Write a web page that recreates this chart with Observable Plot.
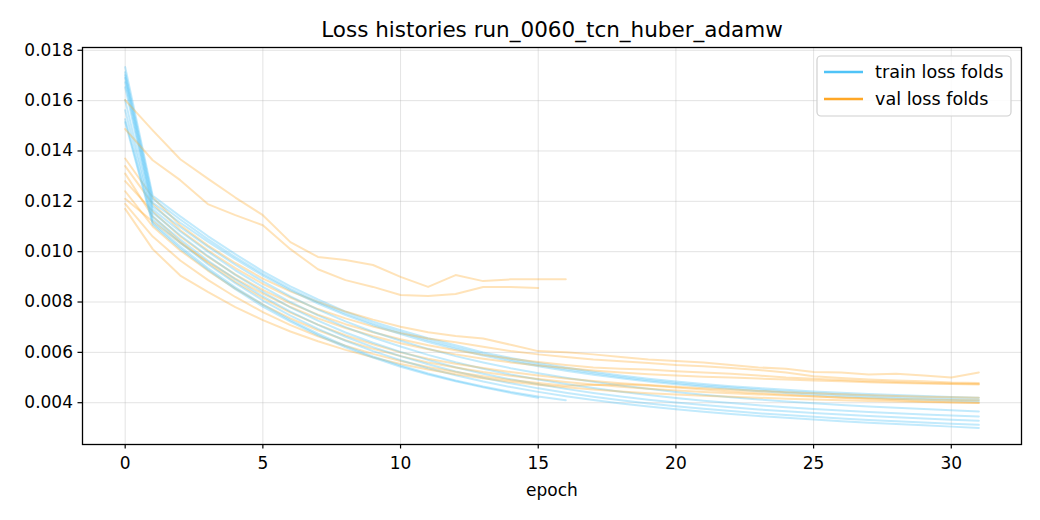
<!DOCTYPE html>
<html>
<head>
<meta charset="utf-8">
<script src="https://cdn.jsdelivr.net/npm/d3@7"></script>
<script src="https://cdn.jsdelivr.net/npm/@observablehq/plot@0.6"></script>
<style>
  html, body { margin: 0; padding: 0; background: #fff; }
  #chart { width: 1040px; height: 520px; }
</style>
</head>
<body>
<div id="chart"></div>
<script>
const chartTitle = "Loss histories run_0060_tcn_huber_adamw";
const xLabel = "epoch";
const legendLabels = ["train loss folds", "val loss folds"];
const xTicks = [0, 5, 10, 15, 20, 25, 30];
const yTicks = [0.004, 0.006, 0.008, 0.010, 0.012, 0.014, 0.016, 0.018];

// train loss per fold (index = epoch)
const train_f0 = [0.01733,0.01222,0.01140,0.01062,0.00990,0.00922,0.00862,0.00810,0.00762,0.00722,0.00688,0.00656,0.00628,0.00600,0.00578,0.00558,0.00540,0.00523,0.00508,0.00495,0.00484,0.00474,0.00465,0.00458,0.00451,0.00445,0.00440,0.00435,0.00431,0.00427,0.00423,0.00420];
const train_f1 = [0.01713,0.01210,0.01128,0.01050,0.00978,0.00912,0.00852,0.00800,0.00754,0.00714,0.00680,0.00648,0.00620,0.00594,0.00571,0.00551,0.00533,0.00517,0.00502,0.00489,0.00478,0.00468,0.00460,0.00452,0.00445,0.00439,0.00433,0.00428,0.00423,0.00419,0.00415,0.00412];
const train_f2 = [0.01701,0.01195,0.01115,0.01040,0.00970,0.00905,0.00846,0.00794,0.00748,0.00708,0.00673,0.00641,0.00613,0.00587,0.00565,0.00545,0.00527,0.00511,0.00497,0.00484,0.00473,0.00463,0.00454,0.00446,0.00439,0.00432,0.00426,0.00421,0.00416,0.00412,0.00408,0.00405];
const train_f3 = [0.01690,0.01180,0.01098,0.01020,0.00948,0.00882,0.00822,0.00770,0.00723,0.00682,0.00646,0.00614,0.00585,0.00560,0.00537,0.00517,0.00499,0.00483,0.00468,0.00455,0.00443,0.00432,0.00422,0.00413,0.00405,0.00398,0.00391,0.00385,0.00380,0.00375,0.00370,0.00365];
const train_f4 = [0.01673,0.01168,0.01080,0.01000,0.00926,0.00860,0.00800,0.00747,0.00700,0.00659,0.00623,0.00590,0.00561,0.00535,0.00512,0.00492,0.00474,0.00458,0.00444,0.00431,0.00419,0.00408,0.00399,0.00390,0.00382,0.00375,0.00369,0.00363,0.00358,0.00353,0.00349,0.00345];
const train_f5 = [0.01653,0.01155,0.01065,0.00983,0.00908,0.00840,0.00779,0.00726,0.00679,0.00638,0.00602,0.00570,0.00541,0.00515,0.00493,0.00473,0.00455,0.00439,0.00425,0.00412,0.00401,0.00391,0.00382,0.00373,0.00366,0.00359,0.00353,0.00347,0.00342,0.00337,0.00332,0.00328];
const train_f6 = [0.01602,0.01140,0.01048,0.00965,0.00890,0.00822,0.00762,0.00709,0.00662,0.00621,0.00585,0.00553,0.00524,0.00499,0.00477,0.00457,0.00440,0.00424,0.00410,0.00397,0.00386,0.00376,0.00367,0.00358,0.00351,0.00344,0.00337,0.00331,0.00326,0.00321,0.00316,0.00312];
const train_f7 = [0.01562,0.01128,0.01035,0.00950,0.00875,0.00806,0.00746,0.00693,0.00646,0.00605,0.00569,0.00537,0.00509,0.00484,0.00462,0.00443,0.00426,0.00411,0.00397,0.00385,0.00374,0.00364,0.00355,0.00347,0.00340,0.00333,0.00326,0.00320,0.00315,0.00310,0.00305,0.00300];
const train_f8 = [0.01526,0.01115,0.01020,0.00935,0.00858,0.00790,0.00728,0.00674,0.00626,0.00584,0.00548,0.00516,0.00488,0.00464,0.00443,0.00425,0.00410];
const train_f9 = [0.01514,0.01108,0.01012,0.00928,0.00851,0.00782,0.00722,0.00668,0.00620,0.00579,0.00543,0.00512,0.00485,0.00461,0.00439,0.00420];

// validation loss per fold (index = epoch)
const val_f0 = [0.01370,0.01215,0.01105,0.01025,0.00955,0.00893,0.00842,0.00800,0.00762,0.00730,0.00702,0.00680,0.00665,0.00655,0.00630,0.00605,0.00600,0.00592,0.00582,0.00572,0.00566,0.00560,0.00550,0.00540,0.00535,0.00522,0.00520,0.00512,0.00515,0.00508,0.00500,0.00520];
const val_f1 = [0.01340,0.01190,0.01085,0.01005,0.00935,0.00872,0.00818,0.00772,0.00735,0.00703,0.00676,0.00655,0.00640,0.00622,0.00605,0.00592,0.00582,0.00572,0.00565,0.00558,0.00550,0.00545,0.00538,0.00530,0.00520,0.00505,0.00498,0.00492,0.00488,0.00485,0.00480,0.00478];
const val_f2 = [0.01280,0.01160,0.01060,0.00980,0.00910,0.00848,0.00795,0.00750,0.00712,0.00680,0.00652,0.00628,0.00608,0.00590,0.00575,0.00562,0.00550,0.00540,0.00535,0.00532,0.00525,0.00520,0.00515,0.00508,0.00500,0.00495,0.00490,0.00485,0.00482,0.00478,0.00476,0.00474];
const val_f3 = [0.01210,0.01120,0.01035,0.00960,0.00893,0.00833,0.00780,0.00735,0.00697,0.00665,0.00636,0.00612,0.00592,0.00575,0.00560,0.00548,0.00538,0.00528,0.00520,0.00513,0.00508,0.00503,0.00500,0.00496,0.00492,0.00488,0.00485,0.00481,0.00478,0.00476,0.00474,0.00472];
const val_f4 = [0.01310,0.01140,0.01040,0.00955,0.00880,0.00815,0.00758,0.00710,0.00668,0.00632,0.00600,0.00575,0.00555,0.00538,0.00522,0.00508,0.00496,0.00486,0.00477,0.00470,0.00463,0.00457,0.00452,0.00447,0.00442,0.00438,0.00434,0.00430,0.00427,0.00424,0.00422,0.00420];
const val_f5 = [0.01240,0.01100,0.01005,0.00925,0.00853,0.00790,0.00735,0.00688,0.00648,0.00614,0.00585,0.00560,0.00540,0.00522,0.00507,0.00494,0.00482,0.00472,0.00463,0.00455,0.00449,0.00443,0.00438,0.00433,0.00429,0.00425,0.00421,0.00418,0.00415,0.00413,0.00411,0.00410];
const val_f6 = [0.01190,0.01060,0.00965,0.00888,0.00820,0.00760,0.00708,0.00664,0.00626,0.00594,0.00566,0.00542,0.00522,0.00505,0.00490,0.00478,0.00467,0.00470,0.00472,0.00468,0.00460,0.00452,0.00445,0.00438,0.00432,0.00426,0.00420,0.00415,0.00410,0.00405,0.00402,0.00400];
const val_f7 = [0.01170,0.01010,0.00905,0.00840,0.00780,0.00728,0.00683,0.00644,0.00610,0.00580,0.00554,0.00532,0.00513,0.00497,0.00483,0.00471,0.00461,0.00452,0.00445,0.00438,0.00433,0.00428,0.00424,0.00420,0.00416,0.00413,0.00410,0.00407,0.00405,0.00403,0.00401,0.00399];
const val_f8 = [0.01602,0.01482,0.01367,0.01290,0.01215,0.01145,0.01038,0.00979,0.00967,0.00947,0.00900,0.00860,0.00907,0.00883,0.00890,0.00890,0.00890];
const val_f9 = [0.01487,0.01363,0.01284,0.01189,0.01145,0.01105,0.01010,0.00930,0.00887,0.00860,0.00828,0.00824,0.00832,0.00860,0.00860,0.00856];

const trainFolds = [train_f0, train_f1, train_f2, train_f3, train_f4, train_f5, train_f6, train_f7, train_f8, train_f9];
const valFolds = [val_f0, val_f1, val_f2, val_f3, val_f4, val_f5, val_f6, val_f7, val_f8, val_f9];

const trainColor = "#4FC3F7";
const valColor = "#FFA726";
const FONT = "DejaVu Sans, sans-serif";

const toRows = (arr) => arr.map((loss, epoch) => ({epoch, loss}));

const lineMarks = [];
trainFolds.forEach((tr, f) => {
  lineMarks.push(Plot.line(toRows(tr), {x: "epoch", y: "loss", stroke: trainColor, strokeOpacity: 0.35, strokeWidth: 2}));
  lineMarks.push(Plot.line(toRows(valFolds[f]), {x: "epoch", y: "loss", stroke: valColor, strokeOpacity: 0.32, strokeWidth: 2}));
});

const plot = Plot.plot({
  width: 1040,
  height: 520,
  marginLeft: 82,
  marginRight: 19,
  marginTop: 47,
  marginBottom: 76,
  style: {fontFamily: FONT, fontSize: "17px", background: "#fff", color: "#000"},
  x: {domain: [-1.55, 32.55]},
  y: {domain: [0.00234, 0.01811]},
  marks: [
    Plot.gridX(xTicks, {stroke: "#b0b0b0", strokeOpacity: 0.35, strokeWidth: 1}),
    Plot.gridY(yTicks, {stroke: "#b0b0b0", strokeOpacity: 0.35, strokeWidth: 1}),
    ...lineMarks,
    Plot.axisX({ticks: xTicks, tickFormat: d3.format("d"), tickSize: 4.5, tickPadding: 8, fontSize: 17, label: null, strokeWidth: 1.2}),
    Plot.axisY({ticks: yTicks, tickFormat: d3.format(".3f"), tickSize: 4.5, tickPadding: 5, fontSize: 17, label: null, strokeWidth: 1.2}),
    Plot.frame({stroke: "#000", strokeWidth: 1.3}),
    Plot.text([chartTitle], {frameAnchor: "top", dy: -17, lineAnchor: "middle", fontSize: 21.5, fill: "#000"}),
    Plot.text([xLabel], {frameAnchor: "bottom", dy: 46, lineAnchor: "middle", fontSize: 17, fill: "#000"})
  ]
});

// legend (matplotlib-style, upper right inside the axes)
const svg = d3.select(plot);
const lg = svg.append("g").attr("font-family", FONT).attr("font-size", 17.6).attr("text-anchor", "start");
lg.append("rect")
  .attr("x", 817).attr("y", 56).attr("width", 194).attr("height", 60)
  .attr("rx", 4).attr("fill", "#fff").attr("fill-opacity", 0.85)
  .attr("stroke", "#d0d0d0").attr("stroke-width", 1.2);
const entries = [[legendLabels[0], trainColor, 72], [legendLabels[1], valColor, 99]];
for (const [label, color, y] of entries) {
  lg.append("line").attr("x1", 824).attr("x2", 863).attr("y1", y).attr("y2", y)
    .attr("stroke", color).attr("stroke-width", 2.4);
  lg.append("text").attr("x", 875).attr("y", y).attr("dy", "0.35em")
    .attr("text-anchor", "start").attr("fill", "#000").text(label);
}

document.getElementById("chart").appendChild(plot);
</script>
</body>
</html>
